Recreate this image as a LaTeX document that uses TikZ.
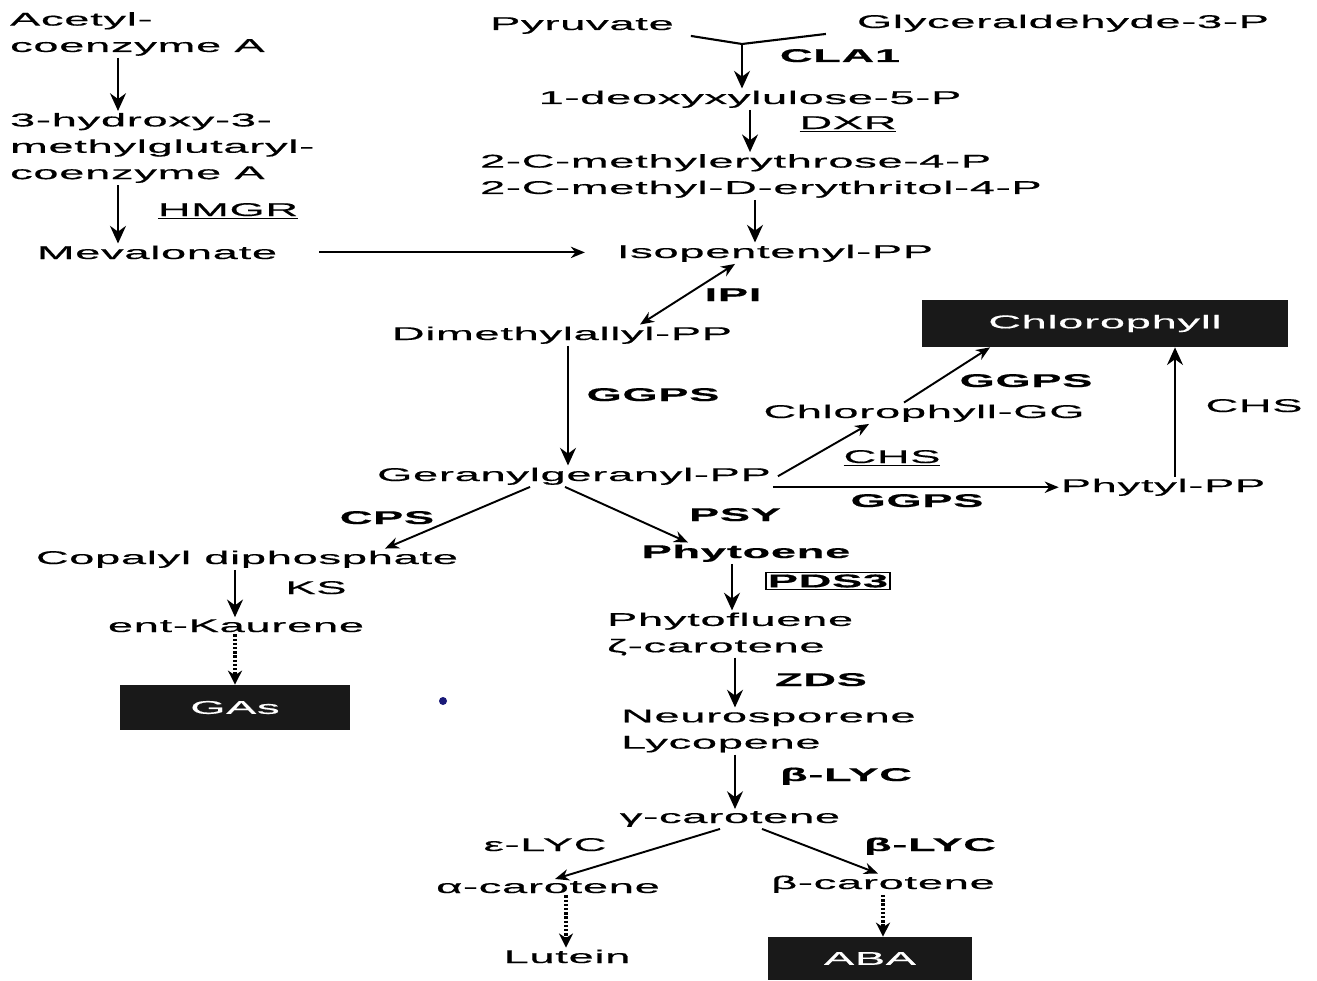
\documentclass[tikz,border=0pt]{standalone}
\usepackage{fontspec}
\setmainfont{Liberation Sans}[FakeStretch=2.45,LetterSpace=4,FakeBold=0.6]
\usetikzlibrary{arrows.meta,calc}
\definecolor{dotblue}{RGB}{25,25,120}

\begin{document}
\begin{tikzpicture}[x=0.02cm,y=-0.02cm,
  every node/.style={inner sep=1pt,font=\fontsize{10.5}{15}\selectfont},
  met/.style={anchor=base},
  enz/.style={anchor=base,font=\fontsize{10.5}{15}\selectfont\bfseries},
  pw/.style={-{Stealth[length=10pt,width=9pt]},line width=1.6pt},
  slant/.style={-{Stealth[length=8pt,width=6.5pt]},line width=1.1pt},
  dotw/.style={-{Stealth[length=8pt,width=8pt]},line width=2pt,dash pattern=on 1.4pt off 1pt},
  blkbox/.style={fill=black!90,text=white}]
\useasboundingbox (0,0) rectangle (1317,980);

% mevalonate route
\node[anchor=west,align=left] (acetyl) at (8,34) {Acetyl-\\coenzyme A};
\node[anchor=west,align=left] (hmg) at (8,148) {3-hydroxy-3-\\methylglutaryl-\\coenzyme A};
\node[met] (meval) at (157,259) {Mevalonate};

% plastid route
\node[met] (pyr) at (582,30) {Pyruvate};
\node[met] (gly) at (1063,28) {Glyceraldehyde-3-P};
\coordinate (join) at (742,44);
\node[met] (dxp) at (750,104) {1-deoxyxylulose-5-P};
\node[anchor=west,align=left] (mep) at (478,176) {2-C-methylerythrose-4-P\\2-C-methyl-D-erythritol-4-P};
\node[met] (ipp) at (775,258) {Isopentenyl-PP};
\node[met] (dmapp) at (562,340) {Dimethylallyl-PP};
\node[met] (ggpp) at (574,481) {Geranylgeranyl-PP};

% chlorophyll branch
\node[met] (chlgg) at (924,418) {Chlorophyll-GG};
\node[blkbox,minimum width=7.32cm,minimum height=0.94cm] (chl) at (1105,323.5) {Chlorophyll};
\node[met] (phytyl) at (1163,492) {Phytyl-PP};

% gibberellin branch
\node[met] (cdp) at (247,564) {Copalyl diphosphate};
\node[met] (kaur) at (236,632) {ent-Kaurene};
\node[blkbox,minimum width=4.6cm,minimum height=0.9cm] (gas) at (235,707.5) {GAs};

% carotenoid branch
\node[enz] (phytoene) at (746,558) {Phytoene};
\node[anchor=west,align=left] (pfl) at (605,634) {Phytofluene\\ζ-carotene};
\node[anchor=west,align=left] (neuro) at (619,731) {Neurosporene\\Lycopene};
\node[met] (gcar) at (730,823) {γ-carotene};
\node[met] (acar) at (548,893) {α-carotene};
\node[met] (bcar) at (883,889) {β-carotene};
\node[met] (lutein) at (567,963) {Lutein};
\node[blkbox,minimum width=4.08cm,minimum height=0.86cm] (aba) at (870,958.5) {ABA};

% enzymes
\node[enz] (cla) at (840,62) {CLA1};
\node[met] (dxr) at (848,129) {\underline{DXR}};
\node[met] (hmgr) at (228,216) {\underline{HMGR}};
\node[enz] (ipi) at (733,301) {IPI};
\node[enz] (ggps1) at (653,401) {GGPS};
\node[met] (chs1) at (892,463) {\underline{CHS}};
\node[enz] (ggps2) at (1026,387) {GGPS};
\node[enz] (ggps3) at (917,507) {GGPS};
\node[met] (chs2) at (1254,412) {CHS};
\node[enz] (cps) at (387,524) {CPS};
\node[met] (ks) at (316,594) {KS};
\node[enz] (psy) at (735,521) {PSY};
\node[draw,line width=0.9pt,font=\fontsize{10.5}{15}\selectfont\bfseries] (pds) at (828,581) {PDS3};
\node[enz] (zds) at (821,686) {ZDS};
\node[enz] (blyc1) at (846,781) {β-LYC};
\node[met] (elyc) at (545,851) {ε-LYC};
\node[enz] (blyc2) at (930,851) {β-LYC};

% arrows
\draw[pw] (acetyl.south -| 118,0) -- (hmg.north -| 118,0);
\draw[pw] (hmg.south -| 118,0) -- (meval.north -| 118,0);
\draw[slant] (meval.east) ++(0.8cm,0) -- ([xshift=-0.6cm]ipp.west |- meval.east);
\draw[line width=1.2pt] ([xshift=0.3cm]pyr.south east) -- (join) -- ([xshift=-0.58cm]gly.south west);
\draw[pw] (join) -- (dxp.north -| join);
\draw[pw] (dxp.south -| 750,0) -- (mep.north -| 750,0);
\draw[pw] (mep.south -| 755,0) -- (ipp.north -| 755,0);
\draw[slant,{Stealth[length=8pt,width=6.5pt]}-{Stealth[length=8pt,width=6.5pt]}] ([xshift=-0.8cm]ipp.south) -- ([xshift=1.56cm]dmapp.north);
\draw[pw] (dmapp.south -| 568,0) -- (ggpp.north -| 568,0);
\draw[slant] ([xshift=0.1cm]ggpp.east) -- ([xshift=-1.1cm]chlgg.south);
\draw[slant] ([xshift=-0.4cm]chlgg.north) -- ([xshift=-2.3cm]chl.south);
\draw[slant] (ggpp.east |- phytyl.west) -- (phytyl.west);
\draw[pw] (phytyl.north -| 1175,0) -- (chl.south -| 1175,0);
\draw[slant] ([xshift=-0.88cm]ggpp.south) -- ([xshift=2.76cm]cdp.north);
\draw[slant] ([xshift=-0.18cm]ggpp.south) -- ([xshift=-1.16cm]phytoene.north);
\draw[pw] (cdp.south -| 235,0) -- (kaur.north -| 235,0);
\draw[dotw] (kaur.south -| 235,0) -- (gas.north -| 235,0);
\draw[pw] (phytoene.south -| 732,0) -- (pfl.north -| 732,0);
\draw[pw] (pfl.south -| 735,0) -- (neuro.north -| 735,0);
\draw[pw] (neuro.south -| 735,0) -- (gcar.north -| 735,0);
\draw[slant] ([xshift=-0.2cm]gcar.south) -- ([xshift=0.14cm]acar.north);
\draw[slant] ([xshift=0.64cm]gcar.south) -- ([xshift=-0.1cm]bcar.north);
\draw[dotw] (acar.south -| 566,0) -- (lutein.north -| 566,0);
\draw[dotw] (bcar.south -| 883,0) -- (aba.north -| 883,0);

\fill[dotblue] (443,701) circle (4);
\end{tikzpicture}
\end{document}
